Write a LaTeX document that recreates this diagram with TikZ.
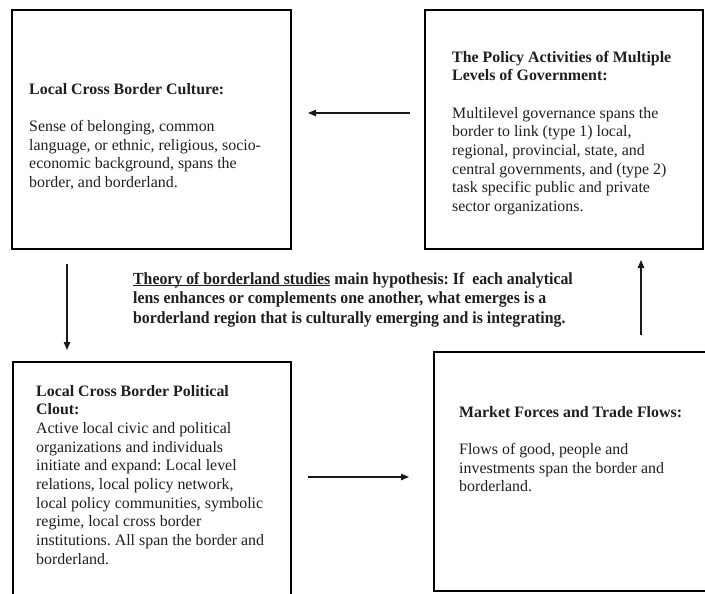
\documentclass[tikz,border=0pt]{standalone}
\usepackage{fontspec}
\setmainfont{Liberation Serif}
\newfontfamily\hypfont[FakeStretch=0.93]{Liberation Serif}
\usetikzlibrary{arrows.meta,calc}
\frenchspacing
\begin{document}
\begin{tikzpicture}[x=1pt,y=-1pt,
  box/.style={draw=black, line width=2pt, anchor=north west, inner sep=0pt},
  txt/.style={anchor=base west, align=left, inner sep=0pt, text=black!88,
    font=\fontsize{15.9}{18.7}\selectfont},
  hyptxt/.style={anchor=base west, align=left, inner sep=0pt, text=black!88,
    font=\hypfont\bfseries\fontsize{17}{19.6}\selectfont},
  arr/.style={-{Triangle[length=8pt,width=6.5pt]}, line width=1.1pt, draw=black!90}]
\useasboundingbox (0,0) rectangle (705,594);
\fill[white] (0,0) rectangle (705,594);
% boxes
\node[box, minimum width=279pt, minimum height=239pt] (tl) at (11,9) {};
\node[box, minimum width=278pt, minimum height=239pt] (tr) at (424,9) {};
\node[box, minimum width=278pt, minimum height=250pt] (bl) at (12,361) {};
\node[box, minimum width=290pt, minimum height=239pt] (br) at (433,351) {};
% texts (anchored at the baseline of their last line)
\node[txt] (tlt) at (29,187.5) {\textbf{Local Cross Border Culture:}\\[18.7pt]
Sense of belonging, common\\
language, or ethnic, religious, socio-\\
economic background, spans the\\
border, and borderland.};
\node[txt] (trt) at (452,211.6) {\textbf{The Policy Activities of Multiple}\\
\textbf{Levels of Government:}\\[18.7pt]
Multilevel governance spans the\\
border to link (type 1) local,\\
regional, provincial, state, and\\
central governments, and (type 2)\\
task specific public and private\\
sector organizations.};
\node[txt] (blt) at (36,564.3) {\textbf{Local Cross Border Political}\\
\textbf{Clout:}\\
Active local civic and political\\
organizations and individuals\\
initiate and expand: Local level\\
relations, local policy network,\\
local policy communities, symbolic\\
regime, local cross border\\
institutions. All span the border and\\
borderland.};
\node[txt] (brt) at (459,491.8) {\textbf{Market Forces and Trade Flows:}\\[18.7pt]
Flows of good, people and\\
investments span the border and\\
borderland.};
\node[hyptxt] (hyp) at (133,323.2) {\underline{\smash{Theory of borderland studies}} main hypothesis: If\ \ each analytical\\
lens enhances or complements one another, what emerges is a\\
borderland region that is culturally emerging and is integrating.};
% arrows
\draw[arr] ($(tr.north west)+(-14,104)$) -- ($(tl.north east)+(16,104)$);
\draw[arr] ($(tl.south west)+(56,14)$) -- ($(bl.north west)+(55,-11)$);
\draw[arr] ($(bl.north east)+(16,116)$) -- ($(br.north west)+(-24,126)$);
\draw[arr] ($(br.north west)+(208,-16)$) -- ($(tr.south west)+(217,10)$);
\end{tikzpicture}
\end{document}
